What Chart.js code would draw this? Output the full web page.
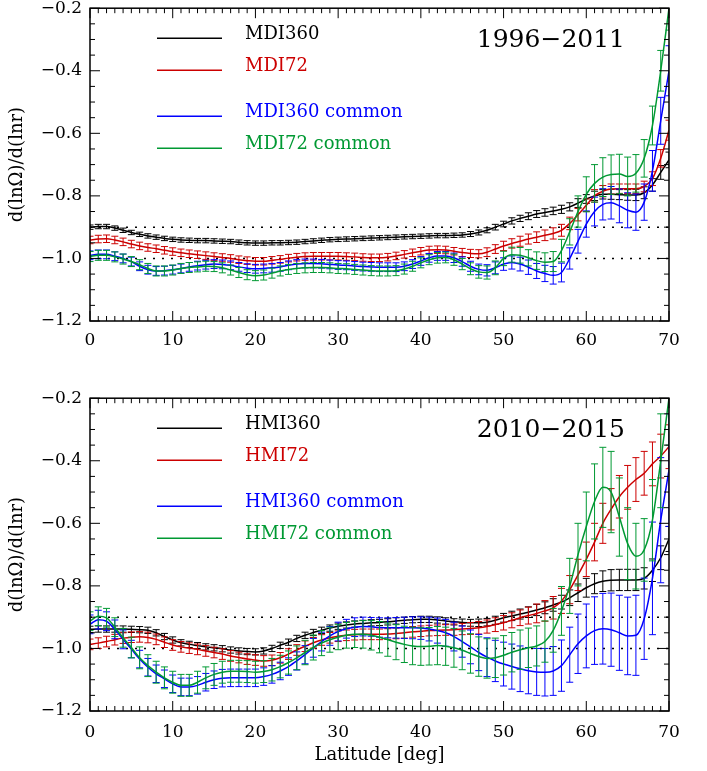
<!DOCTYPE html>
<html>
<head>
    <title>d(ln Omega)/d(ln r) vs latitude</title>
    <script src="https://cdn.jsdelivr.net/npm/chart.js"></script>
    <style>
        body { margin: 0; background: #fff; }
        #wrap { position: relative; width: 707px; height: 771px; overflow: hidden; }
        canvas { position: absolute; left: 0; }
    </style>
</head>
<body>
<div id="wrap">
    <canvas id="topChart" width="707" height="380" style="top:-10px"></canvas>
    <canvas id="bottomChart" width="707" height="391" style="top:380px"></canvas>
</div>
<script>
// latitude grid (deg)
const latitude = [0,1,2,3,4,5,6,7,8,9,10,11,12,13,14,15,16,17,18,19,20,21,22,23,24,25,26,27,28,29,
    30,31,32,33,34,35,36,37,38,39,40,41,42,43,44,45,46,47,48,49,50,51,52,53,54,55,56,57,58,59,
    60,61,62,63,64,65,66,67,68,69,70];

const topNames = ['MDI360', 'MDI72', 'MDI360 common', 'MDI72 common'];
const bottomNames = ['HMI360', 'HMI72', 'HMI360 common', 'HMI72 common'];
const periods = ['1996\u22122011', '2010\u22122015'];
const yTicks = [-1.2, -1.0, -0.8, -0.6, -0.4, -0.2];
const refLevels = [-0.9, -1.0];

// ---- 1996-2011 (MDI) ----
const mdi360 = [-0.900,-0.898,-0.898,-0.903,-0.910,-0.917,-0.923,-0.928,-0.932,-0.936,
    -0.939,-0.941,-0.942,-0.943,-0.943,-0.944,-0.945,-0.946,-0.948,-0.950,
    -0.951,-0.951,-0.950,-0.950,-0.949,-0.948,-0.946,-0.944,-0.942,-0.940,
    -0.939,-0.938,-0.937,-0.936,-0.935,-0.934,-0.933,-0.932,-0.931,-0.930,
    -0.929,-0.928,-0.927,-0.927,-0.926,-0.925,-0.922,-0.917,-0.910,-0.900,
    -0.890,-0.880,-0.872,-0.865,-0.858,-0.853,-0.848,-0.843,-0.835,-0.823,
    -0.810,-0.800,-0.795,-0.795,-0.796,-0.797,-0.797,-0.790,-0.765,-0.725,
    -0.685];
const mdi360Err = [0.007,0.007,0.007,0.007,0.007,0.007,0.007,0.007,0.007,0.007,
    0.007,0.007,0.007,0.007,0.007,0.007,0.007,0.007,0.007,0.007,
    0.007,0.007,0.007,0.007,0.007,0.007,0.007,0.007,0.007,0.007,
    0.007,0.007,0.007,0.007,0.007,0.007,0.007,0.007,0.007,0.007,
    0.007,0.007,0.007,0.007,0.007,0.007,0.008,0.008,0.008,0.009,
    0.009,0.010,0.010,0.011,0.011,0.012,0.012,0.013,0.013,0.014,
    0.014,0.015,0.015,0.016,0.016,0.017,0.018,0.019,0.020,0.022,
    0.025];
const mdi72 = [-0.941,-0.938,-0.937,-0.941,-0.947,-0.954,-0.960,-0.965,-0.969,-0.974,
    -0.978,-0.982,-0.985,-0.988,-0.991,-0.994,-0.997,-1.000,-1.004,-1.007,
    -1.009,-1.009,-1.006,-1.003,-0.999,-0.996,-0.994,-0.993,-0.993,-0.993,
    -0.993,-0.994,-0.995,-0.997,-0.998,-0.998,-0.996,-0.992,-0.987,-0.982,
    -0.977,-0.973,-0.972,-0.973,-0.977,-0.981,-0.984,-0.985,-0.980,-0.970,
    -0.960,-0.952,-0.945,-0.938,-0.932,-0.926,-0.920,-0.910,-0.888,-0.860,
    -0.830,-0.800,-0.785,-0.778,-0.777,-0.777,-0.777,-0.770,-0.745,-0.680,
    -0.590];
const mdi72Err = [0.012,0.012,0.012,0.012,0.012,0.012,0.012,0.012,0.012,0.012,
    0.012,0.012,0.012,0.012,0.012,0.012,0.012,0.012,0.012,0.012,
    0.012,0.012,0.012,0.012,0.012,0.012,0.012,0.012,0.012,0.012,
    0.012,0.012,0.012,0.012,0.012,0.012,0.012,0.012,0.012,0.012,
    0.012,0.012,0.012,0.012,0.012,0.013,0.013,0.013,0.014,0.014,
    0.015,0.015,0.016,0.016,0.017,0.017,0.018,0.019,0.020,0.020,
    0.020,0.020,0.018,0.016,0.015,0.015,0.015,0.017,0.022,0.028,
    0.032];
const mdi360c = [-0.990,-0.987,-0.987,-0.993,-1.000,-1.010,-1.025,-1.036,-1.040,-1.039,
    -1.036,-1.032,-1.027,-1.023,-1.020,-1.018,-1.019,-1.022,-1.027,-1.031,
    -1.033,-1.032,-1.030,-1.027,-1.022,-1.018,-1.016,-1.016,-1.017,-1.019,
    -1.021,-1.022,-1.024,-1.026,-1.027,-1.028,-1.028,-1.028,-1.025,-1.018,
    -1.008,-0.998,-0.992,-0.992,-0.998,-1.010,-1.025,-1.035,-1.038,-1.030,
    -1.018,-1.013,-1.018,-1.028,-1.040,-1.048,-1.054,-1.045,-1.000,-0.945,
    -0.890,-0.850,-0.827,-0.822,-0.832,-0.846,-0.852,-0.820,-0.720,-0.560,
    -0.400];
const mdi360cErr = [0.014,0.014,0.014,0.014,0.014,0.014,0.014,0.014,0.014,0.014,
    0.014,0.014,0.014,0.014,0.014,0.014,0.014,0.014,0.014,0.014,
    0.014,0.014,0.014,0.014,0.014,0.014,0.014,0.014,0.014,0.014,
    0.014,0.014,0.014,0.014,0.014,0.014,0.014,0.014,0.014,0.014,
    0.014,0.014,0.014,0.014,0.015,0.015,0.016,0.017,0.018,0.019,
    0.020,0.021,0.022,0.023,0.024,0.026,0.028,0.030,0.034,0.038,
    0.042,0.046,0.050,0.052,0.054,0.056,0.058,0.058,0.065,0.075,
    0.080];
const mdi72c = [-0.994,-0.990,-0.990,-0.995,-1.002,-1.010,-1.020,-1.032,-1.040,-1.040,
    -1.037,-1.032,-1.029,-1.027,-1.025,-1.026,-1.030,-1.037,-1.045,-1.052,
    -1.055,-1.053,-1.047,-1.040,-1.035,-1.032,-1.030,-1.029,-1.029,-1.030,
    -1.032,-1.033,-1.035,-1.037,-1.039,-1.040,-1.040,-1.039,-1.034,-1.025,
    -1.014,-1.004,-0.998,-0.997,-1.004,-1.018,-1.033,-1.043,-1.045,-1.030,
    -1.000,-0.988,-0.990,-0.998,-1.007,-1.012,-1.010,-0.975,-0.915,-0.850,
    -0.795,-0.760,-0.740,-0.732,-0.730,-0.738,-0.728,-0.680,-0.575,-0.400,
    -0.200];
const mdi72cErr = [0.016,0.016,0.016,0.016,0.016,0.016,0.016,0.016,0.016,0.016,
    0.016,0.016,0.016,0.016,0.016,0.016,0.016,0.016,0.016,0.016,
    0.016,0.016,0.016,0.016,0.016,0.016,0.016,0.016,0.016,0.016,
    0.016,0.016,0.016,0.016,0.016,0.016,0.016,0.016,0.016,0.016,
    0.016,0.016,0.017,0.017,0.018,0.018,0.019,0.020,0.021,0.022,
    0.023,0.024,0.025,0.026,0.028,0.030,0.032,0.036,0.042,0.050,
    0.056,0.060,0.062,0.063,0.063,0.062,0.060,0.060,0.062,0.065,
    0.070];

// ---- 2010-2015 (HMI) ----
const hmi360 = [-0.939,-0.938,-0.938,-0.938,-0.938,-0.939,-0.940,-0.942,-0.950,-0.962,
    -0.973,-0.982,-0.987,-0.991,-0.995,-0.998,-1.001,-1.005,-1.008,-1.010,
    -1.011,-1.008,-1.000,-0.990,-0.980,-0.968,-0.958,-0.949,-0.942,-0.935,
    -0.929,-0.925,-0.922,-0.920,-0.918,-0.917,-0.915,-0.912,-0.910,-0.908,
    -0.907,-0.907,-0.909,-0.912,-0.915,-0.917,-0.918,-0.918,-0.916,-0.910,
    -0.902,-0.896,-0.890,-0.884,-0.877,-0.870,-0.861,-0.852,-0.838,-0.822,
    -0.806,-0.793,-0.785,-0.782,-0.781,-0.781,-0.781,-0.776,-0.750,-0.710,
    -0.650];
const hmi360Err = [0.010,0.010,0.010,0.010,0.010,0.010,0.010,0.010,0.010,0.010,
    0.010,0.010,0.010,0.010,0.010,0.010,0.010,0.010,0.010,0.010,
    0.010,0.010,0.010,0.010,0.010,0.010,0.010,0.010,0.010,0.010,
    0.010,0.010,0.010,0.010,0.010,0.010,0.010,0.010,0.010,0.010,
    0.010,0.010,0.010,0.010,0.010,0.011,0.011,0.012,0.012,0.013,
    0.014,0.015,0.016,0.017,0.018,0.019,0.020,0.022,0.025,0.028,
    0.030,0.032,0.033,0.034,0.034,0.034,0.034,0.034,0.036,0.038,
    0.040];
const hmi72 = [-0.987,-0.983,-0.978,-0.972,-0.967,-0.964,-0.963,-0.965,-0.971,-0.980,
    -0.989,-0.995,-0.999,-1.003,-1.008,-1.013,-1.018,-1.024,-1.029,-1.034,
    -1.037,-1.040,-1.038,-1.030,-1.018,-1.005,-0.993,-0.982,-0.973,-0.966,
    -0.961,-0.958,-0.956,-0.955,-0.955,-0.955,-0.954,-0.952,-0.950,-0.947,
    -0.945,-0.943,-0.942,-0.941,-0.940,-0.938,-0.936,-0.934,-0.930,-0.924,
    -0.918,-0.910,-0.902,-0.895,-0.888,-0.880,-0.870,-0.848,-0.812,-0.765,
    -0.715,-0.660,-0.600,-0.555,-0.515,-0.485,-0.460,-0.440,-0.410,-0.385,
    -0.355];
const hmi72Err = [0.017,0.017,0.017,0.017,0.017,0.017,0.017,0.017,0.017,0.017,
    0.017,0.017,0.017,0.017,0.017,0.017,0.017,0.017,0.017,0.017,
    0.017,0.017,0.017,0.017,0.017,0.017,0.017,0.017,0.017,0.017,
    0.017,0.017,0.017,0.017,0.017,0.017,0.017,0.017,0.017,0.017,
    0.017,0.017,0.017,0.017,0.018,0.018,0.019,0.020,0.021,0.022,
    0.023,0.024,0.025,0.027,0.030,0.033,0.036,0.040,0.045,0.050,
    0.055,0.060,0.064,0.066,0.068,0.070,0.070,0.070,0.070,0.070,
    0.070];
const hmi360c = [-0.923,-0.908,-0.913,-0.939,-0.971,-1.002,-1.034,-1.060,-1.081,-1.097,
    -1.113,-1.123,-1.123,-1.118,-1.108,-1.100,-1.095,-1.094,-1.094,-1.094,
    -1.094,-1.090,-1.083,-1.072,-1.058,-1.040,-1.020,-0.998,-0.978,-0.960,
    -0.946,-0.937,-0.932,-0.930,-0.931,-0.933,-0.934,-0.934,-0.934,-0.934,
    -0.935,-0.938,-0.943,-0.950,-0.962,-0.978,-0.995,-1.013,-1.028,-1.040,
    -1.050,-1.058,-1.065,-1.071,-1.075,-1.076,-1.072,-1.055,-1.020,-0.985,
    -0.960,-0.943,-0.937,-0.940,-0.950,-0.960,-0.958,-0.905,-0.776,-0.590,
    -0.430];
const hmi360cErr = [0.030,0.030,0.030,0.030,0.030,0.028,0.028,0.028,0.028,0.028,
    0.028,0.028,0.028,0.028,0.028,0.028,0.028,0.028,0.028,0.028,
    0.028,0.028,0.028,0.028,0.028,0.029,0.029,0.030,0.030,0.030,
    0.030,0.030,0.030,0.030,0.030,0.031,0.032,0.033,0.034,0.035,
    0.036,0.038,0.040,0.043,0.046,0.050,0.054,0.058,0.062,0.066,
    0.070,0.072,0.073,0.074,0.075,0.076,0.078,0.082,0.088,0.095,
    0.102,0.108,0.113,0.117,0.120,0.124,0.128,0.130,0.180,0.200,
    0.180];
const hmi72c = [-0.913,-0.897,-0.902,-0.932,-0.966,-0.997,-1.030,-1.055,-1.076,-1.094,
    -1.108,-1.118,-1.118,-1.108,-1.094,-1.083,-1.076,-1.073,-1.073,-1.074,
    -1.076,-1.074,-1.068,-1.058,-1.045,-1.030,-1.013,-0.997,-0.983,-0.972,
    -0.964,-0.958,-0.955,-0.955,-0.958,-0.964,-0.972,-0.980,-0.987,-0.992,
    -0.994,-0.993,-0.991,-0.993,-0.998,-1.006,-1.016,-1.026,-1.032,-1.030,
    -1.022,-1.012,-1.004,-0.998,-0.992,-0.978,-0.942,-0.880,-0.800,-0.700,
    -0.610,-0.530,-0.485,-0.500,-0.580,-0.665,-0.705,-0.685,-0.590,-0.400,
    -0.200];
const hmi72cErr = [0.030,0.030,0.030,0.030,0.030,0.033,0.035,0.035,0.035,0.035,
    0.035,0.035,0.035,0.035,0.035,0.035,0.035,0.035,0.035,0.035,
    0.035,0.035,0.036,0.036,0.037,0.038,0.039,0.040,0.040,0.040,
    0.040,0.041,0.042,0.044,0.047,0.050,0.053,0.056,0.058,0.060,
    0.060,0.060,0.061,0.061,0.062,0.062,0.063,0.063,0.063,0.063,
    0.063,0.063,0.063,0.063,0.064,0.066,0.070,0.078,0.088,0.100,
    0.110,0.120,0.128,0.130,0.125,0.115,0.105,0.100,0.130,0.150,
    0.150];

const seriesColors = ['#000000', 'rgb(204,0,0)', 'rgb(0,0,255)', 'rgb(0,153,51)'];
const keyRows = [26, 58, 104, 136];

Chart.defaults.font.family = '"DejaVu Serif", serif';
Chart.defaults.color = '#000';

// vertical error bars, drawn right after each series line so layering is kept
const errorBars = {
    id: 'errorBars',
    afterDatasetDraw(chart, args) {
        const ds = chart.data.datasets[args.index];
        if (!ds.errors) return;
        const {ctx, chartArea: a, scales: {y}} = chart;
        ctx.save();
        ctx.beginPath();
        ctx.rect(a.left, a.top, a.width, a.height);
        ctx.clip();
        ctx.strokeStyle = ds.borderColor;
        ctx.lineWidth = 1;
        ctx.beginPath();
        args.meta.data.forEach((pt, i) => {
            const e = ds.errors[i];
            const v = ds.data[i].y;
            const y1 = y.getPixelForValue(v + e);
            const y2 = y.getPixelForValue(v - e);
            ctx.moveTo(pt.x, y1); ctx.lineTo(pt.x, y2);
            ctx.moveTo(pt.x - 3.5, y1); ctx.lineTo(pt.x + 3.5, y1);
            ctx.moveTo(pt.x - 3.5, y2); ctx.lineTo(pt.x + 3.5, y2);
        });
        ctx.stroke();
        ctx.restore();
    }
};

// IDL style box with inward ticks on all four sides
const frameTicks = {
    id: 'frameTicks',
    afterDatasetsDraw(chart) {
        const {ctx, chartArea: a, scales: {x, y}} = chart;
        ctx.save();
        ctx.strokeStyle = '#000';
        ctx.lineWidth = 1;
        ctx.beginPath();
        for (let v = x.min; v <= x.max; v += 1) {
            const px = x.getPixelForValue(v);
            const len = v % 10 === 0 ? 10 : 5;
            ctx.moveTo(px, a.bottom); ctx.lineTo(px, a.bottom - len);
            ctx.moveTo(px, a.top); ctx.lineTo(px, a.top + len);
        }
        for (let k = 0; k <= 20; k++) {
            const py = y.getPixelForValue(y.min + k * 0.05);
            const len = k % 4 === 0 ? 10 : 5;
            ctx.moveTo(a.left, py); ctx.lineTo(a.left + len, py);
            ctx.moveTo(a.right, py); ctx.lineTo(a.right - len, py);
        }
        ctx.stroke();
        ctx.lineWidth = 1.5;
        ctx.strokeRect(a.left, a.top, a.width, a.height);
        ctx.restore();
    }
};

// in-plot key and period label
const panelKey = {
    id: 'panelKey',
    afterDraw(chart, args, opts) {
        const {ctx, chartArea: a} = chart;
        ctx.save();
        ctx.font = '18px "DejaVu Serif"';
        ctx.textBaseline = 'middle';
        chart.data.datasets.forEach(ds => {
            if (ds.keyRow === undefined) return;
            const ty = a.top + keyRows[ds.keyRow];
            ctx.strokeStyle = ds.borderColor;
            ctx.lineWidth = 1.5;
            ctx.beginPath();
            ctx.moveTo(a.left + 67, ty + 4);
            ctx.lineTo(a.left + 132, ty + 4);
            ctx.stroke();
            ctx.fillStyle = ds.borderColor;
            ctx.fillText(ds.label, a.left + 155, ty);
        });
        ctx.font = '25px "DejaVu Serif"';
        ctx.textAlign = 'right';
        ctx.fillStyle = '#000';
        ctx.fillText(opts.period, a.right - 44, a.top + 32);
        ctx.restore();
    }
};

function makePanel(id, names, values, errors, period, o) {
    const datasets = values.map((vals, i) => ({
        label: names[i],
        keyRow: i,
        data: latitude.map((lat, j) => ({x: lat, y: vals[j]})),
        errors: errors[i],
        borderColor: seriesColors[i],
        borderWidth: 1.5,
        pointRadius: 0,
        cubicInterpolationMode: 'monotone',
        order: 4 - i
    }));
    refLevels.forEach(level => datasets.push({
        label: 'ref ' + level,
        data: [{x: latitude[0], y: level}, {x: latitude[latitude.length - 1], y: level}],
        borderColor: '#000',
        borderWidth: 1.5,
        borderDash: [2, 7],
        pointRadius: 0,
        order: 10
    }));

    return new Chart(document.getElementById(id), {
        type: 'line',
        data: {datasets},
        options: {
            responsive: false,
            animation: false,
            layout: {autoPadding: false, padding: {top: o.padTop, right: 38, left: 0, bottom: 0}},
            plugins: {
                legend: {display: false},
                tooltip: {enabled: false},
                panelKey: {period}
            },
            scales: {
                x: {
                    type: 'linear',
                    min: 0, max: 70,
                    grid: {display: false, drawTicks: false},
                    border: {display: false},
                    ticks: {stepSize: 10, padding: o.xPad, font: {size: 17}, maxRotation: 0},
                    title: {display: o.xTitle, text: 'Latitude [deg]', font: {size: 18}, padding: {top: 0, bottom: 5}},
                    afterFit: s => { s.height = o.xHeight; }
                },
                y: {
                    type: 'linear',
                    min: yTicks[0], max: yTicks[yTicks.length - 1],
                    grid: {display: false, drawTicks: false},
                    border: {display: false},
                    ticks: {
                        stepSize: 0.2, padding: 8, font: {size: 17},
                        callback: v => v.toFixed(1).replace('-', '\u2212')
                    },
                    title: {display: true, text: 'd(ln\u03A9)/d(lnr)', font: {size: 18}, padding: {top: 7, bottom: 0}},
                    afterFit: s => { s.width = 90; }
                }
            }
        },
        plugins: [errorBars, frameTicks, panelKey]
    });
}

makePanel('topChart', topNames,
    [mdi360, mdi72, mdi360c, mdi72c],
    [mdi360Err, mdi72Err, mdi360cErr, mdi72cErr],
    periods[0], {padTop: 16, xPad: 9, xHeight: 49, xTitle: false});

makePanel('bottomChart', bottomNames,
    [hmi360, hmi72, hmi360c, hmi72c],
    [hmi360Err, hmi72Err, hmi360cErr, hmi72cErr],
    periods[1], {padTop: 14, xPad: 11, xHeight: 60, xTitle: true});
</script>
</body>
</html>
